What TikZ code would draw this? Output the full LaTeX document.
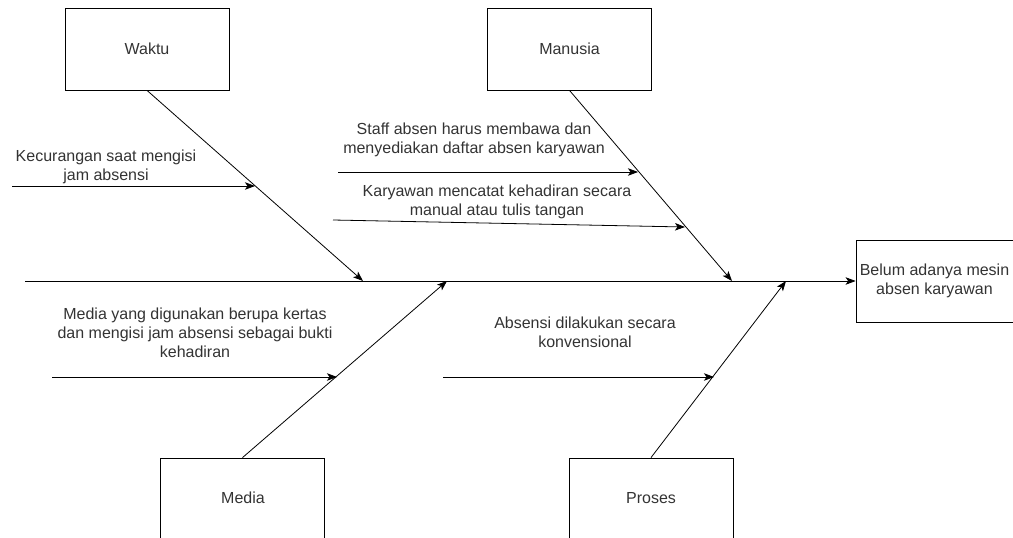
\documentclass[tikz,border=0pt]{standalone}
\usepackage{fontspec}
\setmainfont{Liberation Sans}
\usetikzlibrary{arrows.meta}
\definecolor{txt}{HTML}{333333}
\begin{document}
\begin{tikzpicture}[x=1pt,y=-1pt,
  every node/.style={font=\fontsize{16}{19.2}\selectfont, text=txt},
  box/.style={draw=black, line width=0.8pt, minimum width=164pt, minimum height=82pt, inner sep=0pt},
  lbl/.style={align=center, inner sep=0pt},
  arr/.style={-{Stealth[length=10pt,width=7.5pt,inset=2.5pt]}, line width=0.8pt, draw=black}]
\useasboundingbox (0,0) rectangle (1013,538);
\clip (0,0) rectangle (1013,538);
% category boxes
\node[box] (waktu) at (147,49) {Waktu};
\node[box] (manusia) at (569.5,49) {Manusia};
\node[box] (media) at (242.5,499) {};
\node[box] (proses) at (651,499) {};
\node (medial) at (243,498) {Media};
\node (prosesl) at (651,498) {Proses};
\node[box, minimum width=157pt, align=center] (out) at (934.5,281) {Belum adanya mesin\\absen karyawan};
% spine
\coordinate (s0) at (25,281);
\draw[arr] (s0) -- (out.west);
% spine points
\coordinate (w1) at (363,281);
\coordinate (m1) at (732,281);
\coordinate (d1) at (447,281);
\coordinate (p1) at (786,281);
\draw[arr] (waktu.south) -- (w1);
\draw[arr] (manusia.south) -- (m1);
\draw[arr] (media.north) -- (d1);
\draw[arr] (proses.north) -- (p1);
% sub-causes
\coordinate (ks) at (12,186);   \coordinate (ke) at (255,186);
\coordinate (ss) at (338,172);  \coordinate (se) at (638,172);
\coordinate (cs) at (333,220);  \coordinate (ce) at (685,227);
\coordinate (ms) at (52,377);   \coordinate (me) at (337,377);
\coordinate (as) at (443,377);  \coordinate (ae) at (714,377);
\draw[arr] (ks) -- (ke);
\draw[arr] (ss) -- (se);
\draw[arr] (cs) -- (ce);
\draw[arr] (ms) -- (me);
\draw[arr] (as) -- (ae);
% labels
\node[lbl] (kl) at (106,166.5) {Kecurangan saat mengisi\\jam absensi};
\node[lbl] (sl) at (474,140) {Staff absen harus membawa dan\\menyediakan daftar absen karyawan};
\node[lbl] (cl) at (497,202) {Karyawan mencatat kehadiran secara\\manual atau tulis tangan};
\node[lbl] (ml) at (195,333) {Media yang digunakan berupa kertas\\dan mengisi jam absensi sebagai bukti\\kehadiran};
\node[lbl] (al) at (585,332) {Absensi dilakukan secara\\konvensional};
\end{tikzpicture}
\end{document}
